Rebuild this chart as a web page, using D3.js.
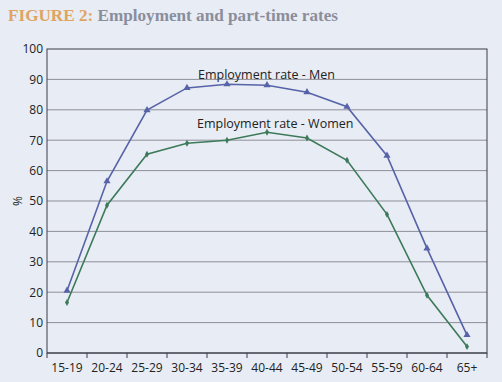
<!DOCTYPE html>
<meta charset="utf-8">
<style>
body { margin: 0; background: #e8ecf4; }
svg { display: block; }
</style>
<script src="https://d3js.org/d3.v7.min.js"></script>
<div id="chart"></div>
<script>
// age groups and rates (%)
var ageGroups = ["15-19", "20-24", "25-29", "30-34", "35-39", "40-44", "45-49", "50-54", "55-59", "60-64", "65+"];
var menRate = [20.5, 56.5, 79.9, 87.2, 88.4, 88.1, 85.8, 81.0, 64.9, 34.4, 5.9];
var womenRate = [16.6, 48.6, 65.4, 69.0, 70.0, 72.6, 70.7, 63.4, 45.6, 19.0, 2.1];
var yTicks = [0, 10, 20, 30, 40, 50, 60, 70, 80, 90, 100];

var W = 502, H = 382;
var margin = {top: 49, right: 15, bottom: 29, left: 47},
    width = W - margin.left - margin.right,
    height = H - margin.top - margin.bottom;

var svg = d3.select("#chart").append("svg")
    .attr("width", W)
    .attr("height", H);

// title
var title = svg.append("text")
    .attr("x", 8)
    .attr("y", 21)
    .style("font-family", "'Liberation Serif', serif")
    .style("font-weight", "bold")
    .style("font-size", "17.5px");
title.append("tspan").attr("fill", "#e0a462").text("FIGURE 2: ");
title.append("tspan").attr("fill", "#8a8e9c").text("Employment and part-time rates");
var tw = title.node().getComputedTextLength();
if (tw > 330) title.attr("textLength", 330).attr("lengthAdjust", "spacingAndGlyphs");

var g = svg.append("g")
    .attr("transform", "translate(" + margin.left + "," + margin.top + ")");

var x = d3.scaleBand().domain(ageGroups).range([0, width]);
var y = d3.scaleLinear().domain([0, 100]).range([height, 0]);

// gridlines
g.selectAll("line.grid")
    .data(yTicks.filter(function(d) { return d > 0 && d < 100; }))
    .enter().append("line")
    .attr("class", "grid")
    .attr("x1", 0).attr("x2", width)
    .attr("y1", function(d) { return y(d); })
    .attr("y2", function(d) { return y(d); })
    .attr("stroke", "#8e8f99")
    .attr("stroke-width", 1);

// frame
g.append("rect")
    .attr("x", 0).attr("y", 0)
    .attr("width", width).attr("height", height)
    .attr("fill", "none")
    .attr("stroke", "#3a3d48")
    .attr("stroke-width", 1);

// y axis
var yAxis = d3.axisLeft(y).tickValues(yTicks).tickSize(0).tickPadding(4);
g.append("g").call(yAxis)
    .call(function(s) { s.select(".domain").remove(); })
    .selectAll("text")
    .style("font-family", "'Open Sans', sans-serif")
    .style("font-size", "12px")
    .attr("fill", "#222");

// x axis with ticks between bands
var xg = g.append("g").attr("transform", "translate(0," + height + ")");
xg.append("line").attr("x1", 0).attr("x2", width)
    .attr("stroke", "#3a3d48");
xg.selectAll("line.tick")
    .data(d3.range(ageGroups.length + 1))
    .enter().append("line")
    .attr("class", "tick")
    .attr("x1", function(i) { return i * x.bandwidth(); })
    .attr("x2", function(i) { return i * x.bandwidth(); })
    .attr("y1", 0).attr("y2", 5)
    .attr("stroke", "#3a3d48");
xg.selectAll("text")
    .data(ageGroups)
    .enter().append("text")
    .attr("x", function(d) { return x(d) + x.bandwidth() / 2; })
    .attr("y", 19)
    .attr("text-anchor", "middle")
    .style("font-family", "'Open Sans', sans-serif")
    .style("font-size", "12px")
    .attr("fill", "#222")
    .text(function(d) { return d; });

// y label
svg.append("text")
    .attr("transform", "translate(22," + (margin.top + y(50)) + ") rotate(-90)")
    .attr("text-anchor", "middle")
    .style("font-family", "'Open Sans', sans-serif")
    .style("font-size", "12px")
    .attr("fill", "#222")
    .text("%");

var cx = function(d, i) { return x(ageGroups[i]) + x.bandwidth() / 2; };

var line = d3.line()
    .x(cx)
    .y(function(d) { return y(d); });

// men
g.append("path").datum(menRate)
    .attr("d", line)
    .attr("fill", "none")
    .attr("stroke", "#5763a8")
    .attr("stroke-width", 1.6);
g.selectAll("path.men")
    .data(menRate)
    .enter().append("path")
    .attr("class", "men")
    .attr("d", d3.symbol().type(d3.symbolTriangle).size(22))
    .attr("transform", function(d, i) { return "translate(" + cx(d, i) + "," + y(d) + ")"; })
    .attr("fill", "#5763a8");

// women
g.append("path").datum(womenRate)
    .attr("d", line)
    .attr("fill", "none")
    .attr("stroke", "#3d7a5a")
    .attr("stroke-width", 1.6);
g.selectAll("path.women")
    .data(womenRate)
    .enter().append("path")
    .attr("class", "women")
    .attr("d", d3.symbol().type(d3.symbolDiamond).size(14))
    .attr("transform", function(d, i) { return "translate(" + cx(d, i) + "," + y(d) + ")"; })
    .attr("fill", "#3d7a5a");

// series labels
g.append("text")
    .attr("x", 151).attr("y", 30)
    .style("font-family", "'Open Sans', sans-serif")
    .style("font-size", "12.5px")
    .attr("fill", "#222")
    .text("Employment rate - Men");
g.append("text")
    .attr("x", 150).attr("y", 79)
    .style("font-family", "'Open Sans', sans-serif")
    .style("font-size", "12.5px")
    .attr("fill", "#222")
    .text("Employment rate - Women");
</script>
